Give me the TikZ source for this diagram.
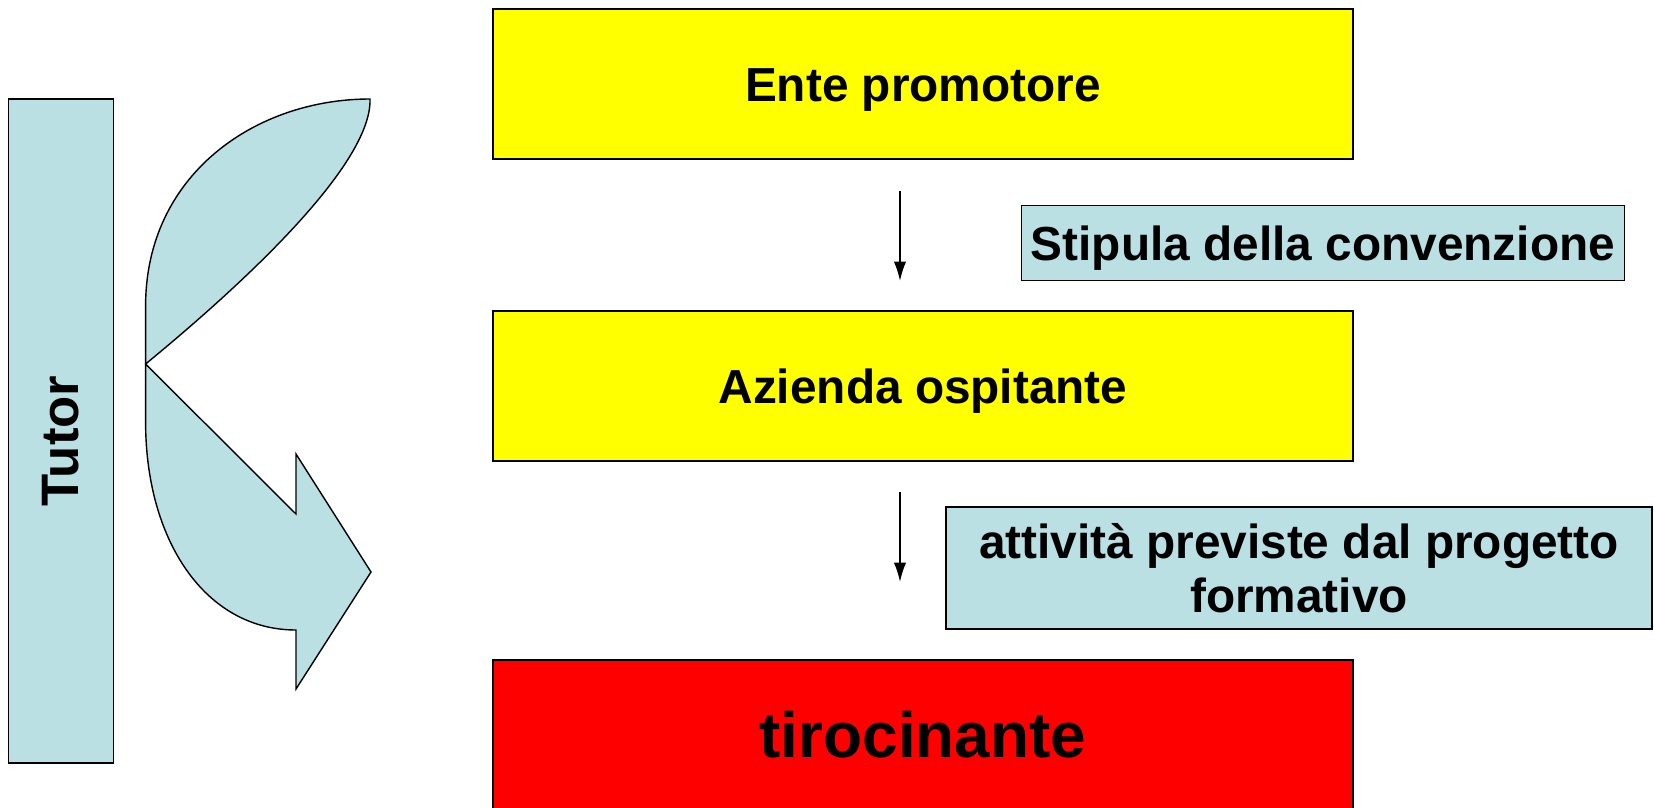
\documentclass[tikz,border=0pt]{standalone}
\usepackage{fontspec}
\setmainfont{Liberation Sans}
\usetikzlibrary{arrows.meta}
\definecolor{paleblue}{HTML}{BAE0E3}
\definecolor{hiyellow}{RGB}{255,255,0}
\definecolor{hired}{RGB}{255,0,0}
\begin{document}
\begin{tikzpicture}[
  x=0.02cm, y=-0.02cm,
  box/.style={rectangle, draw, line width=0.8pt, inner sep=0pt, minimum width=17.2cm, minimum height=3cm, font=\fontsize{27.2}{31}\selectfont\bfseries, text height=25pt, text depth=5pt, align=center},
  note/.style={rectangle, draw, line width=0.8pt, fill=paleblue, inner sep=0pt, font=\fontsize{27.2}{31}\selectfont\bfseries, align=center},
  flow/.style={-{Latex[length=11pt,width=7pt]}, line width=0.9pt}
]
\useasboundingbox (0,0) rectangle (1654,808);

% Main chain
\node[box, fill=hiyellow] (ente) at (923,84) {Ente promotore};
\node[box, fill=hired, font=\fontsize{36.4}{40}\selectfont\bfseries, text height=26pt, text depth=0pt] (tiro) at (923,735) {tirocinante};
\node[box, fill=hiyellow] (azienda) at (923,386) {Azienda ospitante};

% Side notes
\node[note, minimum width=12.06cm, minimum height=1.5cm, text height=25pt, text depth=5pt] (stipula) at (1323,243) {Stipula della convenzione};
\node[note, minimum width=14.12cm, minimum height=2.44cm] (attivita) at (1299,568) {\raisebox{-4pt}{attività previste dal progetto}\\\raisebox{-4pt}{formativo}};

% Tutor
\node[note, minimum width=2.11cm, minimum height=13.28cm] (tutor) at (61,431) {};
\node[rotate=90, font=\fontsize{30}{34}\selectfont\bfseries] (tutortxt) at (61,441) {Tutor};

% Arrows
\coordinate (a1s) at (900,191);
\coordinate (a1e) at (900,281);
\coordinate (a2s) at (900,492);
\coordinate (a2e) at (900,582);
\draw[flow] (a1s) -- (a1e);
\draw[flow] (a2s) -- (a2e);

% Curved arrow
\draw[fill=paleblue, line width=0.8pt, line join=miter]
  (145.6,364) -- (145.6,306)
  .. controls (145.6,175) and (255,99) .. (370,99)
  .. controls (372,160) and (260,270) .. (145.6,364)
  -- (296,514) -- (296,454) -- (371,572) -- (296,689) -- (296,630)
  .. controls (205,630) and (145.6,540) .. (145.6,422) -- cycle;
\end{tikzpicture}
\end{document}
